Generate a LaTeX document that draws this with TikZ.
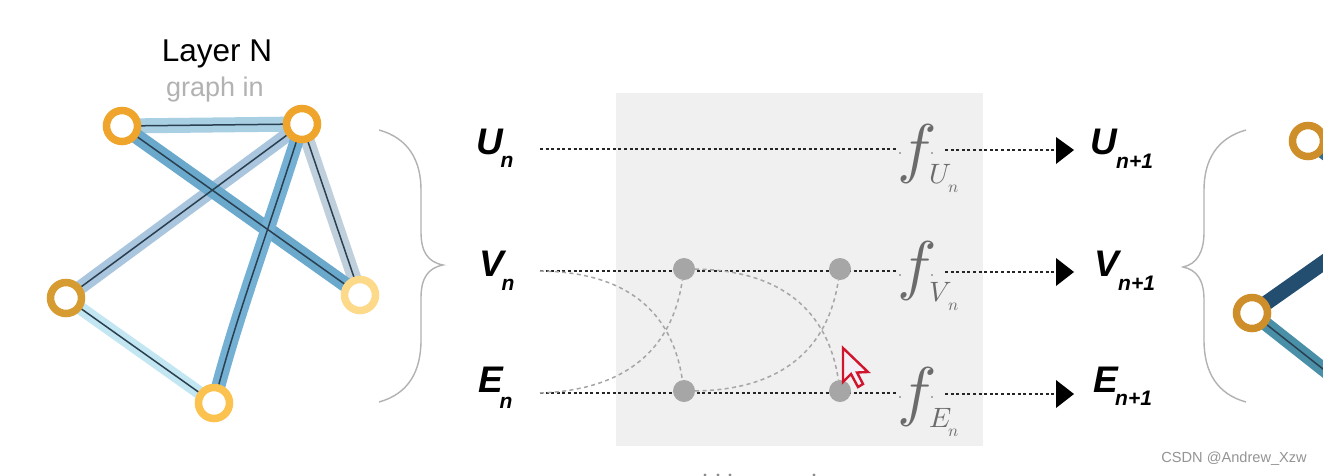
\documentclass[tikz,border=0pt]{standalone}
\usepackage{fontspec}
\setmainfont{Liberation Sans}
\usepackage{unicode-math}
\setmathfont{Latin Modern Math}
\newfontfamily\labfont{Liberation Sans}
\usetikzlibrary{arrows.meta,calc}
\definecolor{ringA}{HTML}{EFA52C}
\definecolor{ringB}{HTML}{D79C31}
\definecolor{ringC}{HTML}{FDD98A}
\definecolor{ringD}{HTML}{FBC24F}
\definecolor{ringE}{HTML}{CE8F2B}
\definecolor{bandAB}{HTML}{A9CFE3}
\definecolor{bandCB}{HTML}{A9C6DE}
\definecolor{bandBD}{HTML}{BFD0DC}
\definecolor{bandCE}{HTML}{C3E6F3}
\definecolor{bandAD}{HTML}{6AA9CC}
\definecolor{bandBE}{HTML}{74B0D3}
\definecolor{coreline}{HTML}{2A3F50}
\definecolor{navy}{HTML}{234E70}
\definecolor{teal1}{HTML}{4A8FA8}
\definecolor{teal2}{HTML}{2E6E8A}
\definecolor{ptr}{HTML}{D0142C}
\definecolor{ptrfill}{HTML}{F4EEF6}
\definecolor{panelgrey}{HTML}{F0F0F0}
\tikzset{
  x=1pt,y=-1pt,
  ring/.style={circle,draw=#1,line width=7.5pt,fill=white,minimum size=31pt,inner sep=0pt},
  core/.style={draw=coreline,line width=1.5pt},
  dots/.style={draw=black!85,line width=1.8pt,dash pattern=on 3pt off 2.6pt},
  light/.style={draw=black!35,line width=1.5pt,dash pattern=on 4pt off 3.4pt},
  junction/.style={circle,fill=black!35,minimum size=22pt,inner sep=0pt},
  sym/.style={font=\labfont\bfseries\itshape\fontsize{37}{37}\selectfont,text=black,inner sep=0pt},
  subs/.style={font=\labfont\bfseries\itshape\fontsize{21}{21}\selectfont,text=black,inner sep=0pt},
  fnc/.style={text=black!58,inner sep=0pt},
  brace/.style={draw=black!30,line width=1.4pt},
  tip/.style={fill=black,draw=none},
}
\begin{document}
\begin{tikzpicture}
\useasboundingbox (0,0) rectangle (1323,475);
\clip (0,0) rectangle (1323,475);
\fill[white] (0,0) rectangle (1323,475);
% grey panel
\node[fill=panelgrey,minimum width=367pt,minimum height=353pt,inner sep=0pt] (panel) at (799.5,269.5) {};

% left graph
\coordinate (a) at (122,126);
\coordinate (b) at (302,124);
\coordinate (c) at (66,298);
\coordinate (d) at (360,295);
\coordinate (e) at (214,403);
\draw[line width=15pt,draw=bandAB] (a)--(b);
\draw[line width=14pt,draw=bandCB] (c)--(b);
\draw[line width=14pt,draw=bandBD] (b)--(d);
\draw[line width=13pt,draw=bandCE] (c)--(e);
\draw[line width=15pt,draw=bandAD] (a)--(d);
\draw[line width=14pt,draw=bandBE] (b) .. controls (262,250) and (235,320) .. (e);
\draw[core] (a)--(b) (c)--(b) (b)--(d) (c)--(e) (a)--(d);
\draw[core] (b) .. controls (262,250) and (235,320) .. (e);
\node[ring=ringA] (na) at (a) {};
\node[ring=ringA] (nb) at (b) {};
\node[ring=ringB] (nc) at (c) {};
\node[ring=ringC] (nd) at (d) {};
\node[ring=ringD] (ne) at (e) {};
\node[font=\fontsize{31.5}{31.5}\selectfont,text=black] (title) at (217,54) {Layer N};
\node[font=\fontsize{27}{27}\selectfont,text=black!30] (sub) at (215,90) {graph in};

% left brace
\draw[brace] (379,130) .. controls (408,138) and (421,160) .. (421,190)
  -- (421,232) .. controls (421,252) and (428,262) .. (443,265)
  .. controls (428,268) and (421,278) .. (421,298)
  -- (421,340) .. controls (421,372) and (408,394) .. (379,402);
% right brace
\draw[brace] (1246,130) .. controls (1217,138) and (1204,160) .. (1204,190)
  -- (1204,232) .. controls (1204,252) and (1197,264) .. (1183,267)
  .. controls (1197,270) and (1204,280) .. (1204,300)
  -- (1204,340) .. controls (1204,372) and (1217,394) .. (1246,402);

% dotted rails
\coordinate (u0) at (540,149);
\coordinate (v0) at (540,271);
\coordinate (e0) at (540,393);
\coordinate (u1) at (898,149);
\coordinate (v1) at (898,271);
\coordinate (e1) at (898,393);
\coordinate (u2) at (945,150);
\coordinate (v2) at (945,272);
\coordinate (e2) at (945,394);
\coordinate (u3) at (1055,150);
\coordinate (v3) at (1055,272);
\coordinate (e3) at (1055,394);
\foreach \r in {u,v,e}{
  \draw[dots] (\r0)--(\r1);
  \draw[dots] (\r2)--(\r3);
}
\fill[tip] (1056,137) -- (1074,150) -- (1056,164) -- cycle;
\fill[tip] (1056,258) -- (1074,272) -- (1056,286) -- cycle;
\fill[tip] (1056,380) -- (1074,394) -- (1056,408) -- cycle;

% junctions and crossings
\node[junction] (j1) at (684,269) {};
\node[junction] (j2) at (840,269) {};
\node[junction] (j3) at (684,391) {};
\node[junction] (j4) at (840,391) {};
\draw[light] (v0) .. controls (625,272) and (672,310) .. (j3);
\draw[light] (e0) .. controls (625,390) and (672,350) .. (j1);
\draw[light] (j1) .. controls (780,270) and (828,310) .. (j4);
\draw[light] (j3) .. controls (780,390) and (828,350) .. (j2);

% f labels
\foreach \l/\fy/\sy/\ny/\nm in {U/154/174/189/fu,V/271/292/307/fv,E/397/418/433/fe}{
  \node[fnc,font=\fontsize{66}{66}\selectfont] (\nm) at (917,\fy) {$f$};
  \node[fnc,font=\fontsize{28}{28}\selectfont] (\nm s) at (941,\sy) {$\l$};
  \node[fnc,font=\fontsize{17}{17}\selectfont] (\nm n) at (954,\ny) {$n$};
}
\foreach \yy in {153,275,397}{
  \fill[black!60] (900,\yy) circle (0.8pt) (932,\yy) circle (0.8pt);
}

% left symbols
\node[sym] (lu) at (489.5,141.5) {U};
\node[sym] (lv) at (492,263.5) {V};
\node[sym] (le) at (490.5,380) {E};
\node[subs] (lun) at (507,162) {n};
\node[subs] (lvn) at (508,284.5) {n};
\node[subs] (len) at (506,402.5) {n};
% right symbols
\node[sym] (ru) at (1104,141.5) {U};
\node[sym] (rv) at (1107,264) {V};
\node[sym] (re) at (1105.5,380) {E};
\node[subs,anchor=west] (run) at (1116,161.5) {n+1};
\node[subs,anchor=west] (rvn) at (1118,283) {n+1};
\node[subs,anchor=west] (ren) at (1115,398.5) {n+1};

% right graph
\coordinate (p) at (1308,141);
\coordinate (q) at (1252,313);
\draw[line width=15pt,draw=navy] (q)--(1394,213);
\draw[line width=14pt,draw=teal1] (q)--(1394,425);
\draw[core] (q)--(1394,425);
\draw[line width=13pt,draw=teal2] (p)--(1360,180);
\node[ring=ringE] (np) at (p) {};
\node[ring=ringE] (nq) at (q) {};

% pointer
\draw[draw=ptr,line width=2.4pt,fill=ptrfill,line join=miter]
 (843,348) -- (843,382) -- (851,374) -- (858,387) -- (863,384) -- (857,372.5) -- (868,372) -- cycle;

% watermark
\node[text=black!42,font=\fontsize{14.6}{14.6}\selectfont,anchor=east,inner sep=0pt] (mark) at (1307,459) {CSDN @Andrew\_Xzw};
% tops of the caption cut off by the lower edge
\fill[black!45] (705,475) circle (1.6pt) (718,475) circle (1.6pt) (730,475) circle (1.6pt) (814,475) circle (1.6pt);
\end{tikzpicture}
\end{document}
